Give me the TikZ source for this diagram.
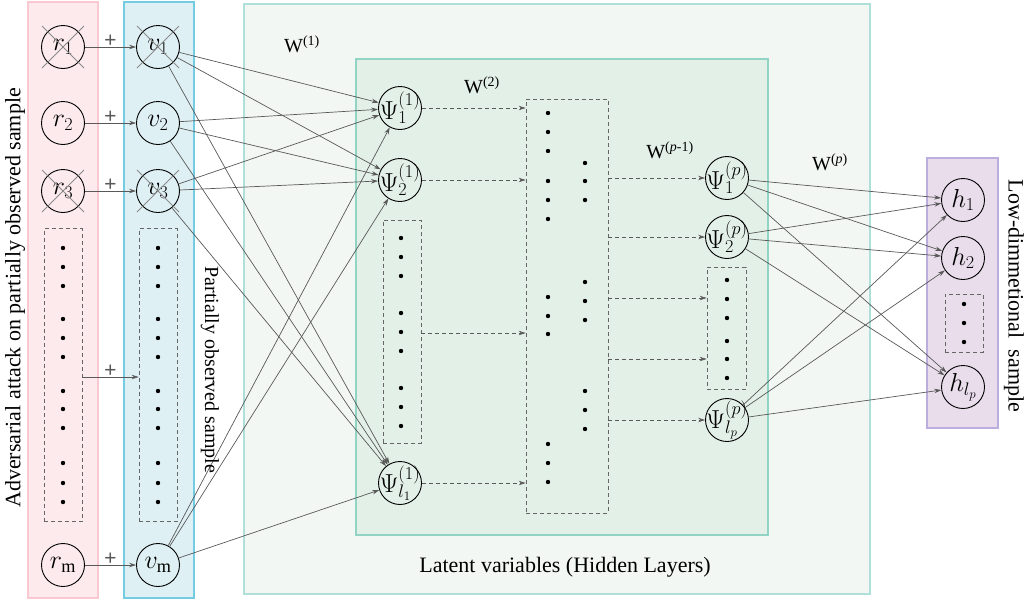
\RequirePackage{fix-cm}
\documentclass[tikz,border=0pt]{standalone}
\usepackage{fontspec}
\setmainfont{Liberation Serif}
\usetikzlibrary{arrows.meta}

\definecolor{pinkfill}{HTML}{FDEAED}
\definecolor{pinkline}{HTML}{F9C8D0}
\definecolor{bluefill}{HTML}{DEF0F4}
\definecolor{blueline}{HTML}{72CCE2}
\definecolor{outerfill}{HTML}{F2F7F4}
\definecolor{outerline}{HTML}{AEDFD8}
\definecolor{innerfill}{HTML}{E3F0E7}
\definecolor{innerline}{HTML}{92D4C3}
\definecolor{purplefill}{HTML}{E9DDEC}
\definecolor{purpleline}{HTML}{BBADDD}
\definecolor{linkgray}{HTML}{595959}
\definecolor{dashgray}{HTML}{666666}
\definecolor{crossgray}{HTML}{8A8A8A}

\begin{document}
\begin{tikzpicture}[x=1pt,y=-1pt,
  neuron/.style={circle,draw=black,line width=0.9pt,minimum size=43pt,inner sep=-8pt,
                 font=\fontsize{26}{28}\selectfont},
  dotbox/.style={draw=dashgray,line width=0.8pt,dash pattern=on 4pt off 3pt,inner sep=0pt},
  link/.style={draw=linkgray,line width=0.7pt,-{Stealth[length=7pt,width=4.5pt]}},
  dlink/.style={link,dash pattern=on 4pt off 3pt},
  xmark/.style={draw=crossgray,line width=0.9pt},
  panel/.style={line width=1.6pt},
  lbl/.style={font=\fontsize{22}{26}\selectfont},
  wlbl/.style={font=\fontsize{20}{24}\selectfont},
  plus/.style={font=\bfseries\fontsize{22}{22}\selectfont,inner sep=0pt,above=-1pt,text=linkgray}
]
\useasboundingbox (0,0) rectangle (1028,600);

% ---- background panels ----
\draw[panel,draw=pinkline,fill=pinkfill]     (28,2)   rectangle (98,598);
\draw[panel,draw=blueline,fill=bluefill]     (124,2)  rectangle (194,598);
\draw[panel,draw=outerline,fill=outerfill]   (244,4)  rectangle (870,594);
\draw[panel,draw=innerline,fill=innerfill]   (356,59) rectangle (768,535);
\draw[panel,draw=purpleline,fill=purplefill] (927,158) rectangle (998,428);

% ---- input layer r ----
\node[neuron] (r1) at (63,47)  {$r_1$};
\node[neuron] (r2) at (63,123) {$r_2$};
\node[neuron] (r3) at (63,191) {$r_3$};
\node[neuron] (rm) at (63,565) {$r_\mathrm{m}$};
\node[dotbox,minimum width=38pt,minimum height=293pt] (rbox) at (63,375) {};
\foreach \y in {248,267,286,319,338,357,391,409,428,463,483,502}
  \fill (63,\y) circle (2.2pt);

% ---- observed layer v ----
\node[neuron] (v1) at (158,47)  {$v_1$};
\node[neuron] (v2) at (158,123) {$v_2$};
\node[neuron] (v3) at (158,191) {$v_3$};
\node[neuron] (vm) at (158,565) {$v_\mathrm{m}$};
\node[dotbox,minimum width=38pt,minimum height=293pt] (vbox) at (158,375) {};
\foreach \y in {248,267,286,319,338,357,391,409,428,463,483,502}
  \fill (158,\y) circle (2.2pt);

% missing entries are crossed out
\foreach \n in {r1,r3,v1,v3}{
  \draw[xmark] (\n) ++(-21,-21) -- ++(42,42);
  \draw[xmark] (\n) ++(21,-21) -- ++(-42,42);
}

% ---- attack added to the sample ----
\coordinate (y377) at (0,377);
\draw[link] (r1) -- node[plus] (a1) {+} (v1);
\draw[link] (r2) -- node[plus] (a2) {+} (v2);
\draw[link] (r3) -- node[plus] (a3) {+} (v3);
\draw[link] (rm) -- node[plus] (am) {+} (vm);
\draw[link] (rbox.east |- y377) -- node[plus] (ab) {+} (vbox.west |- y377);

% ---- first hidden layer ----
\node[neuron] (p1) at (400,108) {$\Psi^{(1)}_{1}$};
\node[neuron] (p2) at (400,180) {$\Psi^{(1)}_{2}$};
\node[neuron] (pl) at (400,483) {$\Psi^{(1)}_{l_1}$};
\node[dotbox,minimum width=38pt,minimum height=223pt] (pbox) at (402,331.5) {};
\foreach \y in {238,257,276,313,332,351,388,407,426}
  \fill (401,\y) circle (2.2pt);

% ---- intermediate hidden layers ----
\node[dotbox,minimum width=82pt,minimum height=414pt] (mid) at (567,306) {};
\foreach \y in {113,132,151,181,200,219,297,316,334,444,463,482}
  \fill (548,\y) circle (2.2pt);
\foreach \y in {163,181,200,282,301,320,391,410,429}
  \fill (585,\y) circle (2.2pt);

% ---- last hidden layer ----
\node[neuron] (q1) at (727,178) {$\Psi^{(p)}_{1}$};
\node[neuron] (q2) at (727,237) {$\Psi^{(p)}_{2}$};
\node[neuron] (ql) at (727,420) {$\Psi^{(p)}_{l_p}$};
\node[dotbox,minimum width=39pt,minimum height=122pt] (qbox) at (726.5,328) {};
\foreach \y in {280,299,318,341,359,378}
  \fill (727,\y) circle (2.2pt);

% ---- low-dimensional output ----
\node[neuron] (h1) at (963,200) {$h_1$};
\node[neuron] (h2) at (963,258) {$h_2$};
\node[neuron] (hl) at (963,387) {$h_{l_p}$};
\node[dotbox,minimum width=38pt,minimum height=58pt] (hbox) at (964,323) {};
\foreach \y in {304,323,342}
  \fill (964,\y) circle (2.2pt);

% ---- W(1): observed sample to first hidden layer ----
\foreach \s in {v1,v2,v3,vm}
  \foreach \t in {p1,p2,pl}
    \draw[link] (\s) -- (\t);

% ---- W(2) ... W(p-1): dashed flow through the hidden layers ----
\coordinate (y333) at (0,333);
\draw[dlink] (p1) -- (p1 -| mid.west);
\draw[dlink] (p2) -- (p2 -| mid.west);
\draw[dlink] (pbox.east |- y333) -- (mid.west |- y333);
\draw[dlink] (pl) -- (pl -| mid.west);

\coordinate (y298) at (0,298);
\coordinate (y359) at (0,359);
\draw[dlink] (mid.east |- q1) -- (q1);
\draw[dlink] (mid.east |- q2) -- (q2);
\draw[dlink] (mid.east |- y298) -- (qbox.west |- y298);
\draw[dlink] (mid.east |- y359) -- (qbox.west |- y359);
\draw[dlink] (mid.east |- ql) -- (ql);

% ---- W(p): last hidden layer to output ----
\foreach \s in {q1,q2,ql}
  \foreach \t in {h1,h2,hl}
    \draw[link] (\s) -- (\t);

% ---- weight labels ----
\node[wlbl] (w1)  at (302,44)  {W\textsuperscript{(1)}};
\node[wlbl] (w2)  at (482,85)  {W\textsuperscript{(2)}};
\node[wlbl] (wp1) at (670,150) {W\textsuperscript{(\textit{p}-1)}};
\node[wlbl] (wp)  at (830,162) {W\textsuperscript{(\textit{p})}};

% ---- captions ----
\node[lbl,rotate=90]  (capA) at (15,298)  {Adversarial attack on partially observed sample};
\node[font=\fontsize{20}{24}\selectfont,rotate=-90] (capV) at (210,370) {Partially observed sample};
\node[lbl,rotate=-90] (capH) at (1014,296) {Low-dimmetional\ \ sample};
\node[lbl]            (capL) at (565,567) {Latent variables (Hidden Layers)};
\end{tikzpicture}
\end{document}
